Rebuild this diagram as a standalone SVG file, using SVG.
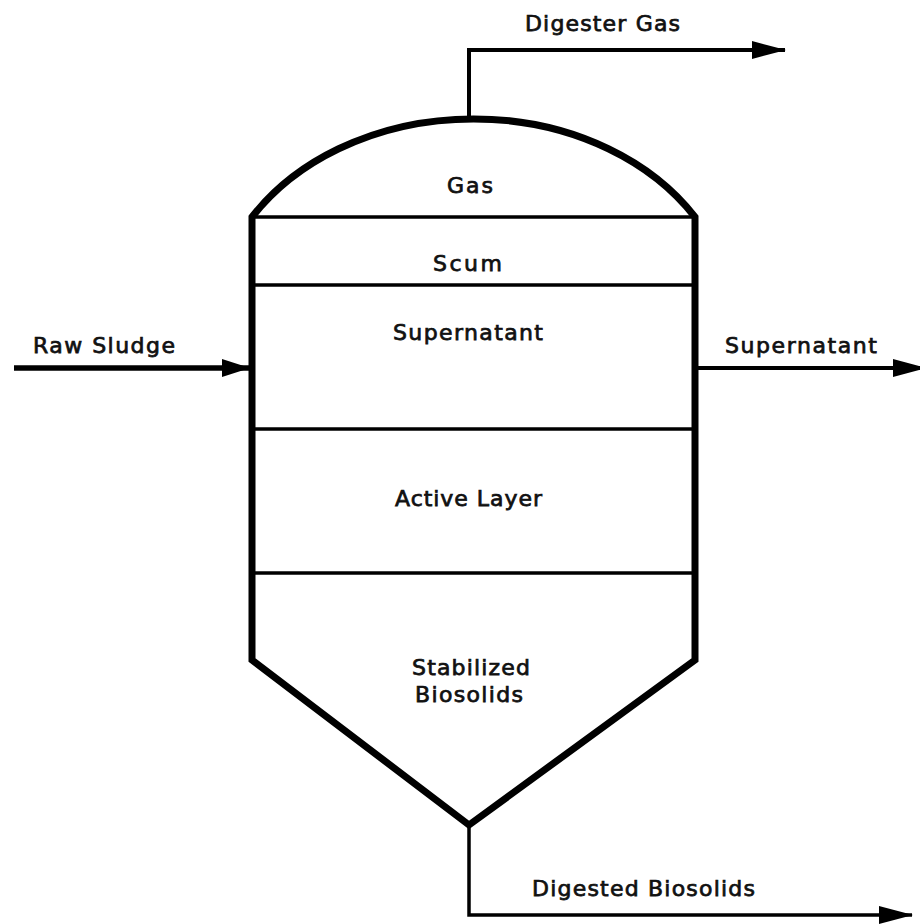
<svg xmlns="http://www.w3.org/2000/svg" width="920" height="924" viewBox="0 0 920 924">
<style>
.lbl{font-family:"DejaVu Sans","Liberation Sans",sans-serif;font-size:22px;fill:#111;stroke:#111;stroke-width:0.75}
.wall{fill:none;stroke:#000;stroke-width:7;stroke-linejoin:miter}
.div{fill:none;stroke:#000;stroke-width:3.5}
.pipe{fill:none;stroke:#000;stroke-width:4}
</style>
<defs>
<marker id="ah" markerUnits="userSpaceOnUse" markerWidth="34" markerHeight="20" refX="33" refY="10" orient="auto">
<path d="M0,1 L34,10 L0,19 z" fill="#000"/>
</marker>
<marker id="ahs" markerUnits="userSpaceOnUse" markerWidth="28" markerHeight="20" refX="27" refY="10" orient="auto">
<path d="M0,1 L28,10 L0,19 z" fill="#000"/>
</marker>
</defs>
<rect width="920" height="924" fill="#fff"/>
<g id="connectors">
<path class="pipe" d="M469,122 V50 H785" marker-end="url(#ah)"/>
<path class="pipe" style="stroke-width:5.5" d="M14,368 H249" marker-end="url(#ahs)"/>
<path class="pipe" d="M695,368 H926" marker-end="url(#ah)"/>
<path class="pipe" style="stroke-width:3.5" d="M469,825 V915 H912" marker-end="url(#ah)"/>
</g>
<g id="vessel">
<path class="wall" d="M252,217 A260,206 0 0 1 695,217 V660 L469,825 L252,660 Z"/>
<line class="div" x1="252" y1="217" x2="695" y2="217"/>
<line class="div" x1="252" y1="285" x2="695" y2="285"/>
<line class="div" x1="252" y1="429" x2="695" y2="429"/>
<line class="div" x1="252" y1="573" x2="695" y2="573"/>
</g>
<g id="gas"><text class="lbl" x="447" y="193" textLength="46" lengthAdjust="spacing">Gas</text></g>
<g id="scum"><text class="lbl" x="433" y="271" textLength="69" lengthAdjust="spacing">Scum</text></g>
<g id="supernatant-layer"><text class="lbl" x="393" y="340" textLength="150" lengthAdjust="spacing">Supernatant</text></g>
<g id="active-layer"><text class="lbl" x="395" y="506" textLength="147" lengthAdjust="spacing">Active Layer</text></g>
<g id="stabilized-biosolids"><text class="lbl" x="412" y="675" textLength="118" lengthAdjust="spacing">Stabilized</text><text class="lbl" x="415" y="702" textLength="108" lengthAdjust="spacing">Biosolids</text></g>
<g id="digester-gas"><text class="lbl" x="525" y="31" textLength="155" lengthAdjust="spacing">Digester Gas</text></g>
<g id="raw-sludge"><text class="lbl" x="33" y="353" textLength="142" lengthAdjust="spacing">Raw Sludge</text></g>
<g id="supernatant-out"><text class="lbl" x="725" y="353" textLength="152" lengthAdjust="spacing">Supernatant</text></g>
<g id="digested-biosolids"><text class="lbl" x="532" y="896" textLength="223" lengthAdjust="spacing">Digested Biosolids</text></g>
</svg>
